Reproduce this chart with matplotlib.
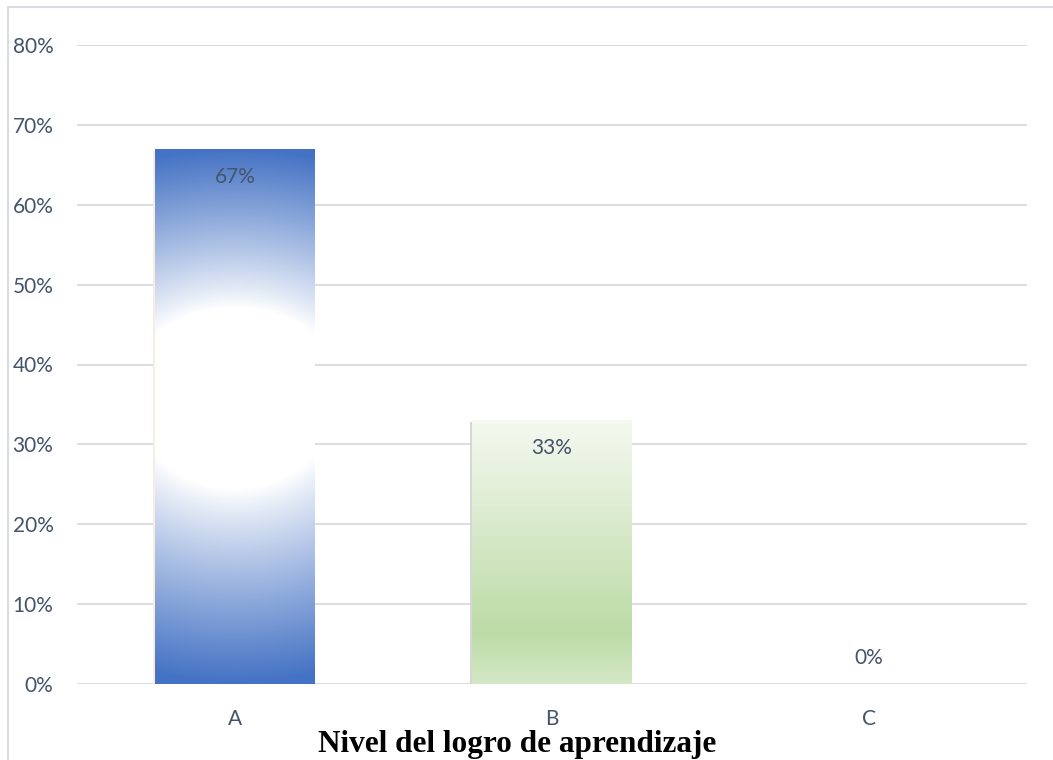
import numpy as np
import matplotlib
matplotlib.use("Agg")
import matplotlib.pyplot as plt
from matplotlib.colors import to_rgb
from matplotlib.lines import Line2D
from matplotlib.transforms import offset_copy

categories = ["A", "B", "C"]
values = [0.67, 0.33, 0.0]
value_labels = ["67%", "33%", "0%"]
yticks = [0.0, 0.1, 0.2, 0.3, 0.4, 0.5, 0.6, 0.7, 0.8]
ytick_labels = ["0%", "10%", "20%", "30%", "40%", "50%", "60%", "70%", "80%"]
xlabel = "Nivel del logro de aprendizaje"

TXT = "#44546A"
GRID = "#D9DDE3"


def blue_radial(ny=400, nx=80):
    # white elliptical core fading to blue at top and bottom
    blue = np.array(to_rgb("#4472C4"))
    white = np.ones(3)
    v = np.linspace(0, 1, ny)[:, None]          # 0 bottom, 1 top
    u = np.linspace(-1, 1, nx)[None, :]
    v0 = 0.55
    dv = np.where(v > v0, (v - v0) / (1 - v0), (v0 - v) / v0)
    d = np.sqrt((u / 4.0) ** 2 + dv ** 2)
    t = np.clip((d - 0.34) / 0.66, 0, 1) ** 0.9
    return white * (1 - t[..., None]) + blue * t[..., None]


def green_linear(ny=400, nx=2):
    stops = [(0.0, "#D3E8C6"), (0.2, "#BCDBA6"), (1.0, "#F5F9F1")]
    v = np.linspace(0, 1, ny)
    pos = [s[0] for s in stops]
    cols = np.array([to_rgb(s[1]) for s in stops])
    img = np.stack([np.interp(v, pos, cols[:, k]) for k in range(3)], axis=-1)
    return np.repeat(img[:, None, :], nx, axis=1)


fig = plt.figure(figsize=(10.53, 7.6), dpi=100)
ax = fig.add_axes([77 / 1053, 76 / 760, 950 / 1053, 639 / 760])

x = np.arange(len(categories))
ax.set_xlim(-0.5, len(categories) - 0.5)
ax.set_ylim(0, 0.8)

for yv in yticks:
    ax.axhline(yv, color=GRID, lw=1.4, zorder=0)

shadow = offset_copy(ax.transData, fig=fig, x=-2, y=-2, units="dots")
shadow_cols = ["#FCEBDF", "#D4D6D9", "none"]
for xi, v, sc in zip(x, values, shadow_cols):
    if v > 0:
        ax.bar(xi, v, width=0.505, color=sc, transform=shadow, zorder=1)

bars = ax.bar(x, values, width=0.505, color="none", zorder=2)
fills = [blue_radial(), green_linear(), None]
for b, img in zip(bars, fills):
    if img is None or b.get_height() <= 0:
        continue
    x0, w, h = b.get_x(), b.get_width(), b.get_height()
    im = ax.imshow(img, extent=[x0, x0 + w, 0, h], origin="lower",
                   aspect="auto", interpolation="bilinear", zorder=2)
    im.set_clip_path(b)

for xi, v, lab in zip(x, values, value_labels):
    off = -28 if v > 0 else 26
    ax.annotate(lab, (xi, v), xytext=(0, off), textcoords="offset pixels",
                ha="center", va="center", fontsize=15, color=TXT,
                family="Lato", zorder=3)

ax.set_xticks(x)
ax.set_xticklabels(categories, fontsize=15, color=TXT, family="Lato")
ax.set_yticks(yticks)
ax.set_yticklabels(ytick_labels, fontsize=15, color=TXT, family="Lato")
ax.tick_params(length=0)
ax.tick_params(axis="y", pad=17)
ax.tick_params(axis="x", pad=18)
for s in ax.spines.values():
    s.set_visible(False)

fig.text(517 / 1053, 1 - 752 / 760, xlabel, ha="center", va="baseline",
         fontsize=22.5, fontweight="bold", family="Liberation Serif", color="black")

# chart area frame (top and left edges visible)
fig.add_artist(Line2D([8 / 1053, 1.0], [1 - 7 / 760, 1 - 7 / 760],
                      color="#D9DDE3", lw=1.5, transform=fig.transFigure))
fig.add_artist(Line2D([8 / 1053, 8 / 1053], [0, 1 - 7 / 760],
                      color="#D9DDE3", lw=1.5, transform=fig.transFigure))

fig.savefig("out.png", dpi=100)
